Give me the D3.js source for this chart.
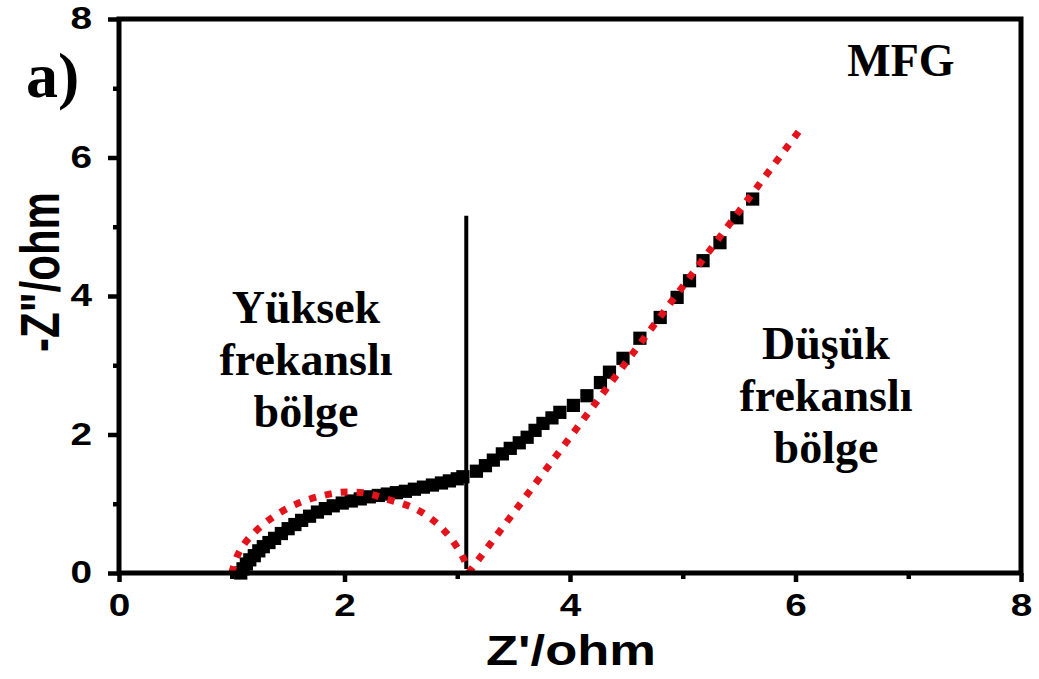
<!DOCTYPE html>
<html><head><meta charset="utf-8">
<script src="https://cdn.jsdelivr.net/npm/d3@7"></script>
<style>html,body{margin:0;padding:0;background:#fff;}svg{display:block;}</style>
</head><body>
<svg id="c" width="1039" height="679"></svg>
<script>
// ---- data ----
const zRe = [1.08,1.10,1.13,1.16,1.20,1.24,1.28,1.33,1.38,1.44,1.50,1.56,1.62,1.69,1.76,1.83,1.90,1.98,2.06,2.14,2.22,2.30,2.38,2.46,2.54,2.62,2.70,2.78,2.86,2.93,3.00,3.05,
             3.17,3.25,3.32,3.40,3.47,3.55,3.62,3.69,3.76,3.84,3.91,4.03,4.15,4.27,4.35,4.47,4.62,4.80,4.95,5.06,5.18,5.33,5.48,5.62];
const zIm = [0.00,0.06,0.13,0.19,0.25,0.32,0.38,0.44,0.50,0.57,0.64,0.70,0.76,0.82,0.88,0.93,0.97,1.01,1.04,1.07,1.10,1.12,1.14,1.16,1.18,1.21,1.24,1.27,1.30,1.33,1.36,1.39,
             1.47,1.55,1.63,1.72,1.80,1.88,1.96,2.06,2.16,2.24,2.32,2.42,2.56,2.75,2.90,3.10,3.39,3.69,3.98,4.22,4.51,4.77,5.13,5.40];
const arcRe = [1.00,1.05,1.14,1.35,1.61,1.90,2.05,2.20,2.35,2.65,2.88,3.05,3.10];
const arcIm = [0.00,0.25,0.48,0.79,1.02,1.15,1.17,1.15,1.08,0.91,0.62,0.23,0.00];
const fitRe = [3.10,6.04];
const fitIm = [0.00,6.40];
const dividerRe = [3.08,3.08];
const dividerIm = [0.00,5.16];
const xTicks = [0,2,4,6,8];
const yTicks = [0,2,4,6,8];
const minorTicks = [1,3,5,7];
const xLabel = "Z'/ohm";
const yLabel = '-Z"/ohm';
const leftText = ["Yüksek","frekanslı","bölge"];
const rightText = ["Düşük","frekanslı","bölge"];
const panelLabel = "a)";
const sampleLabel = "MFG";

// ---- drawing ----
const svg = d3.select("#c");
const x = d3.scaleLinear().domain([0,8]).range([119,1021]);
const y = d3.scaleLinear().domain([0,8]).range([573,19]);
const SANS = "'Liberation Sans', Arial, sans-serif";
const SERIF = "'Liberation Serif', 'Times New Roman', serif";

// data squares
const pts = zRe.map((v,i)=>[v,zIm[i]]);
svg.append("g").selectAll("path").data(pts).enter().append("path")
  .attr("d", d3.symbol().type(d3.symbolSquare).size(175))
  .attr("transform", d=>`translate(${x(d[0])},${y(d[1])})`)
  .attr("fill","#000");

// divider line
svg.append("line")
  .attr("x1",x(dividerRe[0])).attr("x2",x(dividerRe[1]))
  .attr("y1",y(dividerIm[0])-4).attr("y2",y(dividerIm[1]))
  .attr("stroke","#000").attr("stroke-width",4);

// red dotted fits
svg.append("path")
  .attr("d", d3.line().x(d=>x(d[0])).y(d=>y(d[1])).curve(d3.curveCatmullRom)(arcRe.map((v,i)=>[v,arcIm[i]])))
  .attr("fill","none").attr("stroke","#e3131b").attr("stroke-width",7)
  .attr("stroke-dasharray","7,9");
svg.append("path")
  .attr("d", d3.line().x(d=>x(d[0])).y(d=>y(d[1]))(fitRe.map((v,i)=>[v,fitIm[i]])))
  .attr("fill","none").attr("stroke","#e3131b").attr("stroke-width",7)
  .attr("stroke-dasharray","7,9");

// axes
svg.append("g").attr("class","xa").attr("transform",`translate(0,${y(0)})`)
  .call(d3.axisBottom(x).tickValues(xTicks).tickSize(9).tickPadding(12).tickFormat(d3.format("d")));
svg.append("g").attr("transform",`translate(0,${y(0)})`)
  .call(d3.axisBottom(x).tickValues(minorTicks).tickSize(6).tickFormat(""));
svg.append("g").attr("class","ya").attr("transform",`translate(${x(0)},0)`)
  .call(d3.axisLeft(y).tickValues(yTicks).tickSize(11).tickPadding(6).tickFormat(d3.format("d")));
svg.append("g").attr("transform",`translate(${x(0)},0)`)
  .call(d3.axisLeft(y).tickValues(minorTicks).tickSize(6).tickFormat(""));
svg.selectAll(".domain").remove();
svg.selectAll(".tick line").attr("stroke","#000").attr("stroke-width",4.5);
svg.selectAll(".tick text").attr("fill","#000")
  .style("font-family",SANS).style("font-weight","bold").style("font-size","31px")
  .attr("transform","scale(1.25,1)");
svg.selectAll(".ya .tick text").attr("x",-21.5);

// frame
svg.append("rect").attr("x",x(0)).attr("y",y(8)).attr("width",x(8)-x(0)).attr("height",y(0)-y(8))
  .attr("fill","none").attr("stroke","#000").attr("stroke-width",5);

// axis titles
svg.append("text").attr("transform","translate(571,665) scale(1.25,1)").attr("text-anchor","middle")
  .style("font-family",SANS).style("font-weight","bold").style("font-size","42px").text(xLabel);
svg.append("text").attr("transform","translate(59,272) scale(1.3,1) rotate(-90)").attr("text-anchor","middle")
  .style("font-family",SANS).style("font-weight","bold").style("font-size","42px").text(yLabel);

// annotations
svg.append("text").attr("x",26).attr("y",97)
  .style("font-family",SERIF).style("font-weight","bold").style("font-size","64px").text(panelLabel);
svg.append("text").attr("x",901).attr("y",76).attr("text-anchor","middle")
  .style("font-family",SERIF).style("font-weight","bold").style("font-size","46px").text(sampleLabel);
leftText.forEach((t,i)=>{
  svg.append("text").attr("x",306).attr("y",323+i*52).attr("text-anchor","middle")
    .style("font-family",SERIF).style("font-weight","bold").style("font-size","46px").text(t);
});
rightText.forEach((t,i)=>{
  svg.append("text").attr("x",826).attr("y",359+i*52).attr("text-anchor","middle")
    .style("font-family",SERIF).style("font-weight","bold").style("font-size","46px").text(t);
});
</script>
</body></html>
